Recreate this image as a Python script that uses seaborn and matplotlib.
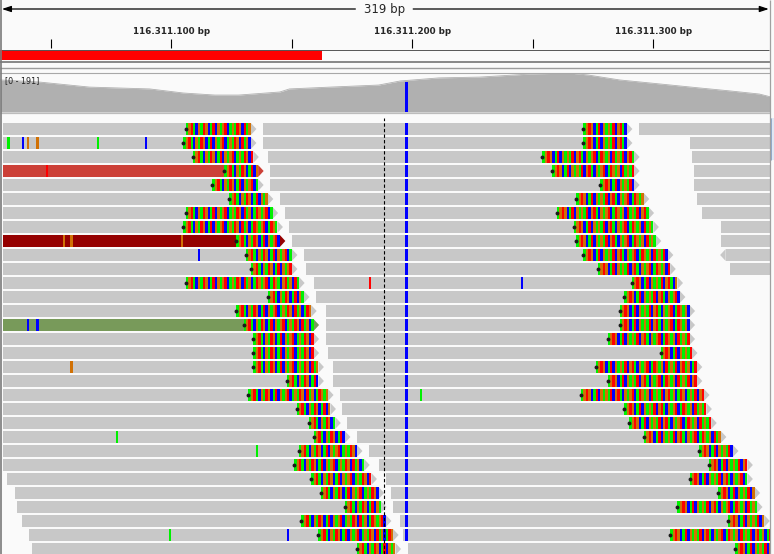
import matplotlib.pyplot as plt
import seaborn as sns

sns.set_theme(style="white")
plt.rcParams["font.family"] = ["DejaVu Sans"]

# all positions are bp offsets from chr position 116.311.000
locus = 116311000
view_start, view_end = 28.9, 348.4
window_bp = 319
tick_pos = [50, 100, 150, 200, 250, 300]
label_pos = [100, 200, 300]
roi = (0, 162.5)

# coverage track
cov_max = 191
cov_pos = [29, 45, 66, 91, 105, 118, 128, 145, 149, 166, 186, 195, 211,
           228, 249, 265, 273, 286, 303, 319, 332, 344, 349]
cov_val = [157, 147, 122, 113, 93, 83, 83, 98, 113, 122, 132, 152, 167,
           171, 186, 191, 181, 157, 137, 118, 103, 88, 73]
snp_pos = 197
snp_base = "C"
snp_cov = 148

# reads, one row each: left read, middle read, far-right read
left_start = [30, 30, 30, 30, 30, 30, 30, 30, 30, 30, 30, 30, 30, 30, 30, 30,
              30, 30, 30, 30, 30, 30, 30, 30, 30, 32, 35, 36, 38, 41, 42]
left_clip_at = [106, 105, 109, 122, 117, 124, 106, 105, 127, 131, 133, 106,
                140, 127, 130, 134, 134, 134, 148, 132, 152, 157, 159, 153,
                151, 158, 162, 172, 154, 161, 177]
left_end = [133, 133, 134, 136, 136, 140, 142, 144, 145, 150, 150, 153, 155,
            158, 159, 159, 159, 161, 161, 165, 166, 168, 172, 177, 180, 183,
            186, 187, 189, 192, 193]
mid_start = [138, 138, 140, 141, 141, 145, 147, 149, 150, 155, 156, 159, 160,
             164, 164, 164, 165, 167, 167, 170, 171, 173, 177, 182, 186, 189,
             191, 192, 195, 196, 198]
mid_clip_at = [271, 271, 254, 258, 278, 268, 260, 267, 268, 271, 277, 291,
               288, 286, 286, 281, 303, 276, 281, 270, 288, 290, 296, 319,
               323, 315, 327, 310, 331, 307, 334]
mid_end = [289, 289, 292, 292, 292, 296, 298, 300, 301, 306, 307, 310, 311,
           315, 315, 315, 316, 318, 318, 321, 322, 324, 328, 333, 339, 339,
           342, 343, 346, 352, 352]
far_start = [294, 315, 316, 317, 317, 318, 320, 328, 328, 330, 332]
far_reverse = [9]

left_clip = "AGTACGATGCATCGAGTCAGATGCTAGCATGAGTCATGACGTAGCTAGCA"
right_clip = "AGTGCATCGAGATCGTACGAGTCATGAGCTAGATCGTAGCATGCAGATCGTAGC"

# single mismatches: (row, position, base)
mismatches = [(1, 32, "A"), (1, 38, "C"), (1, 40, "G"), (1, 44, "G"),
              (1, 69, "A"), (1, 89, "C"), (3, 48, "T"), (8, 55, "G"),
              (8, 58, "G"), (8, 104, "G"), (9, 111, "C"), (11, 182, "T"),
              (11, 245, "C"), (14, 40, "C"), (14, 44, "C"), (17, 58, "G"),
              (19, 203, "A"), (22, 77, "A"), (23, 135, "A"), (29, 99, "A"),
              (29, 148, "C")]

base_colors = {"A": "#00f000", "C": "#0000ff", "G": "#d17105", "T": "#ff0000"}
read_gray = "#c8c8c8"
left_colors = {3: "#cc4037", 8: "#950000", 14: "#789a5a"}
bg = "#fafafa"

W, H = 774, 554
fig = plt.figure(figsize=(W / 100, H / 100), dpi=100)
fig.patch.set_facecolor(bg)


def px_axes(x0, y0, x1, y1):
    ax = fig.add_axes([x0 / W, 1 - y1 / H, (x1 - x0) / W, (y1 - y0) / H])
    ax.set_facecolor(bg)
    ax.set_xlim(view_start, view_end)
    ax.axis("off")
    return ax


# ruler
ax_r = px_axes(0, 0, 770, 49)
ax_r.set_ylim(49, 0)
center = (view_start + view_end) / 2
ax_r.text(center, 10, f"{window_bp} bp", ha="center", va="center", fontsize=8.5)
ax_r.annotate("", xy=(view_start + 0.8, 9), xytext=(center - 12.3, 9),
              arrowprops=dict(arrowstyle="-|>,head_length=0.45,head_width=0.15",
                              lw=0.9, color="black", shrinkA=0, shrinkB=0))
ax_r.annotate("", xy=(view_end - 0.5, 9), xytext=(center + 11.7, 9),
              arrowprops=dict(arrowstyle="-|>,head_length=0.45,head_width=0.15",
                              lw=0.9, color="black", shrinkA=0, shrinkB=0))
ax_r.vlines(tick_pos, 39.5, 48, color="black", lw=0.8)
for p in label_pos:
    lab = f"{locus + p:,} bp".replace(",", ".")
    ax_r.text(p, 31, lab, ha="center", va="center", fontsize=6.3,
              fontweight="bold")

# region of interest bar
ax_f = px_axes(0, 49, 770, 61)
ax_f.set_ylim(0, 1)
ax_f.barh(0.08, roi[1] - roi[0], left=roi[0], height=0.84, align="edge",
          color="#ff0000", lw=0)

# coverage
ax_c = px_axes(0, 73, 770, 112)
ax_c.set_ylim(0, cov_max)
ax_c.fill_between(cov_pos, cov_val, color="#b0b0b0", lw=0)
sns.lineplot(x=cov_pos, y=cov_val, ax=ax_c, color="#b0b0b0", lw=0.6)
ax_c.bar(snp_pos, snp_cov, width=1, align="edge",
         color=base_colors[snp_base], lw=0)
ax_c.text(0.007, 0.8, f"[0 - {cov_max}]", transform=ax_c.transAxes,
          fontsize=5.8, color="#222222", va="center")

# alignments
ax_a = px_axes(0, 118, 770, 554)
n_rows = len(left_end)
ax_a.set_ylim(-5 / 14 + 436 / 14, -5 / 14)
h = 12 / 14
tip = 2.3


def arrow(row, x, color, direction=1):
    ax_a.fill([x, x + direction * tip, x], [row, row + h / 2, row + h],
              color=color, lw=0)


cells = {b: ([], []) for b in base_colors}
marks_x, marks_y = [], []
for i in range(n_rows):
    col = left_colors.get(i, read_gray)
    ax_a.barh(i, left_end[i] - left_start[i], left=left_start[i], height=h,
              align="edge", color=col, lw=0)
    arrow(i, left_end[i], col)
    for k, p in enumerate(range(left_clip_at[i], left_end[i])):
        cells[left_clip[k]][0].append(i)
        cells[left_clip[k]][1].append(p)
    marks_x.append(left_clip_at[i])
    marks_y.append(i + h / 2)

    ax_a.barh(i, mid_end[i] - mid_start[i], left=mid_start[i], height=h,
              align="edge", color=read_gray, lw=0)
    arrow(i, mid_end[i], read_gray)
    for k, p in enumerate(range(mid_clip_at[i], mid_end[i])):
        cells[right_clip[k]][0].append(i)
        cells[right_clip[k]][1].append(p)
    marks_x.append(mid_clip_at[i])
    marks_y.append(i + h / 2)
    if mid_start[i] <= snp_pos < mid_clip_at[i]:
        cells[snp_base][0].append(i)
        cells[snp_base][1].append(snp_pos)

    if i < len(far_start):
        ax_a.barh(i, view_end + 2 - far_start[i], left=far_start[i], height=h,
                  align="edge", color=read_gray, lw=0)
        if i in far_reverse:
            arrow(i, far_start[i], read_gray, direction=-1)

for row, pos, b in mismatches:
    cells[b][0].append(row)
    cells[b][1].append(pos)

for b, (rows, pos) in cells.items():
    ax_a.barh(rows, [1] * len(pos), left=pos, height=h, align="edge",
              color=base_colors[b], lw=0)

ax_a.plot(marks_x, marks_y, "o", ms=2.8, color="#1a1a1a", mew=0)
ax_a.axvline(center - 0.4, color="black", lw=0.8, ls=(0, (3, 2)))

# panel frames and separators in pixel units
ov = fig.add_axes([0, 0, 1, 1])
ov.set_xlim(0, W)
ov.set_ylim(H, 0)
ov.axis("off")
ov.patch.set_alpha(0)
ov.hlines(49.5, 2, 769, color="#555555", lw=0.7)
ov.fill_between([0, 770], 60.6, 63.2, color="#8a8a8a", lw=0)
ov.hlines(67.5, 0, 770, color="#9c9c9c", lw=1.0)
ov.hlines(72.5, 0, 770, color="#a8a8a8", lw=0.8)
ov.hlines(113, 0, 770, color="#bcbcbc", lw=0.9)
ov.vlines(1, 0, H, color="#7a7a7a", lw=1.2)
ov.vlines(769.8, 0, H, color="#a0a0a0", lw=0.9)
ov.fill_between([771, 774], 118, 160, color="#dfe7f3", lw=0)
ov.vlines(771, 118, 160, color="#8fa8c8", lw=0.7)

fig.savefig("out.png", dpi=100, facecolor=bg)
